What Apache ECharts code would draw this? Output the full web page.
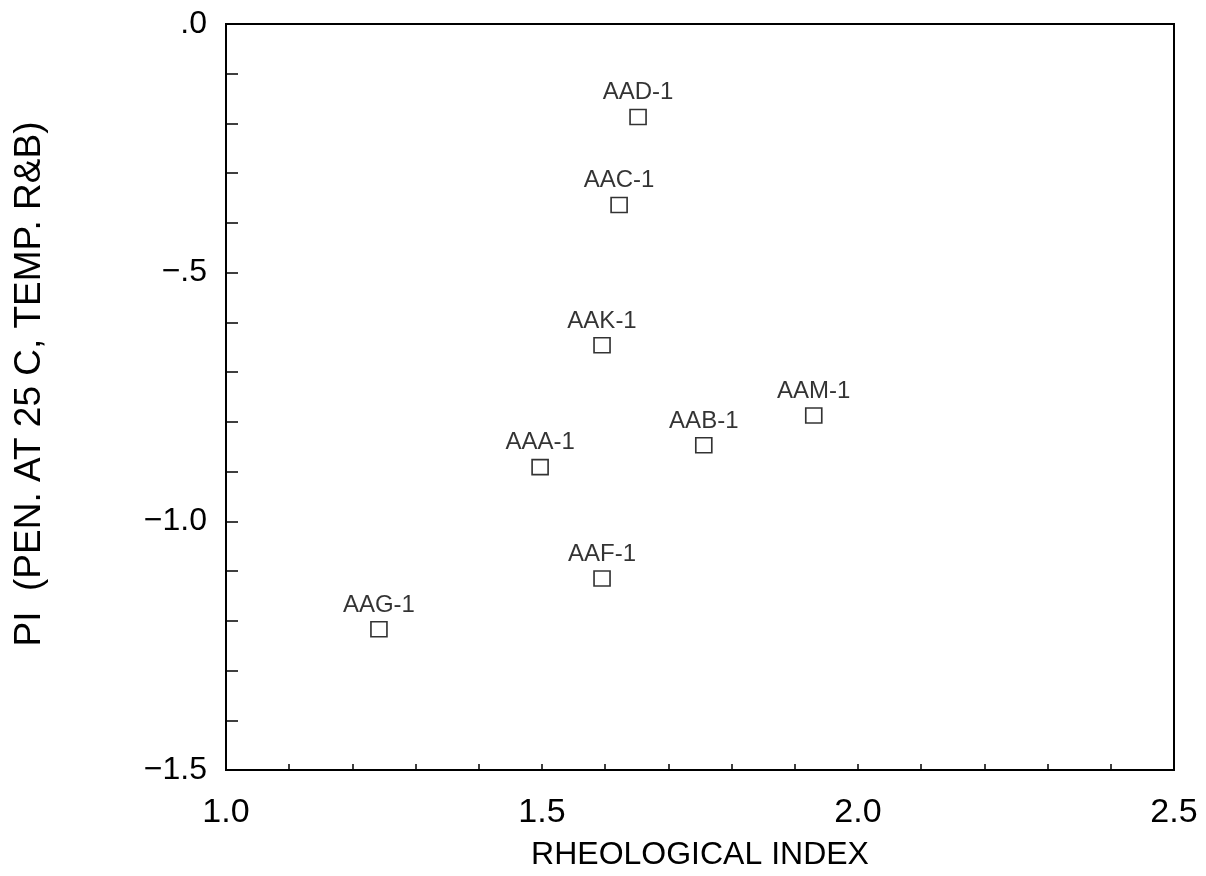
<!DOCTYPE html>
<html>
<head>
<meta charset="utf-8">
<script src="https://cdn.jsdelivr.net/npm/echarts@6/dist/echarts.min.js"></script>
<style>html,body{margin:0;padding:0;background:#fff}#c{width:1206px;height:876px}</style>
</head>
<body>
<div id="c"></div>
<script>
const sampleNames = ['AAD-1', 'AAC-1', 'AAK-1', 'AAA-1', 'AAB-1', 'AAM-1', 'AAF-1', 'AAG-1'];
const rheologicalIndex = [1.652, 1.622, 1.595, 1.497, 1.756, 1.930, 1.595, 1.242];
const penetrationIndex = [-0.187, -0.364, -0.646, -0.891, -0.847, -0.787, -1.115, -1.217];
const xTickLabels = ['1.0', '1.5', '2.0', '2.5'];
const yTickLabels = ['.0', '\u2212.5', '\u22121.0', '\u22121.5'];
const xTitle = 'RHEOLOGICAL INDEX';
const yTitle = 'PI  (PEN. AT 25 C, TEMP. R&B)';

const FONT = 'Liberation Sans, Arial, sans-serif';
const isHalf = v => Math.abs(v * 2 - Math.round(v * 2)) < 1e-6;

const points = sampleNames.map((n, i) => ({ name: n, value: [rheologicalIndex[i], penetrationIndex[i]] }));

const chart = echarts.init(document.getElementById('c'), null, { renderer: 'canvas' });
chart.setOption({
  animation: false,
  backgroundColor: '#fff',
  grid: { left: 226, right: 32, top: 24, bottom: 106, show: true, borderColor: '#000', borderWidth: 2, backgroundColor: 'transparent' },
  xAxis: {
    type: 'value', min: 1.0, max: 2.5, interval: 0.1,
    name: xTitle, nameLocation: 'middle', nameGap: 69,
    nameTextStyle: { fontFamily: FONT, fontSize: 32, color: '#000' },
    axisLine: { show: true, onZero: false, lineStyle: { color: '#000', width: 2 } },
    axisTick: { show: true, inside: true, length: 6, lineStyle: { color: '#000', width: 1.5 } },
    axisLabel: {
      margin: 26, fontFamily: FONT, fontSize: 34, color: '#000',
      formatter: v => isHalf(v) ? xTickLabels[Math.round((v - 1.0) * 2)] : ''
    },
    splitLine: { show: false }
  },
  yAxis: {
    type: 'value', min: -1.5, max: 0, interval: 0.1,
    name: yTitle, nameLocation: 'middle', nameGap: 178,
    nameTextStyle: { fontFamily: FONT, fontSize: 37, color: '#000', padding: [0, 0, 0, 26] },
    axisLine: { show: true, onZero: false, lineStyle: { color: '#000', width: 2 } },
    axisTick: { show: true, inside: true, length: 12, lineStyle: { color: '#000', width: 1.5 } },
    axisLabel: {
      margin: 19, fontFamily: FONT, fontSize: 32, color: '#000',
      formatter: v => isHalf(v) ? yTickLabels[Math.round(-v * 2)] : ''
    },
    splitLine: { show: false }
  },
  series: [{
    type: 'scatter',
    data: points,
    symbol: 'rect',
    symbolSize: [16, 15],
    itemStyle: { color: '#fff', borderColor: '#000', borderWidth: 1.6 },
    label: {
      show: true, position: 'top', distance: 4,
      formatter: p => p.name,
      fontFamily: FONT, fontSize: 24, color: '#000'
    },
    emphasis: { disabled: true }
  }]
});
</script>
</body>
</html>
